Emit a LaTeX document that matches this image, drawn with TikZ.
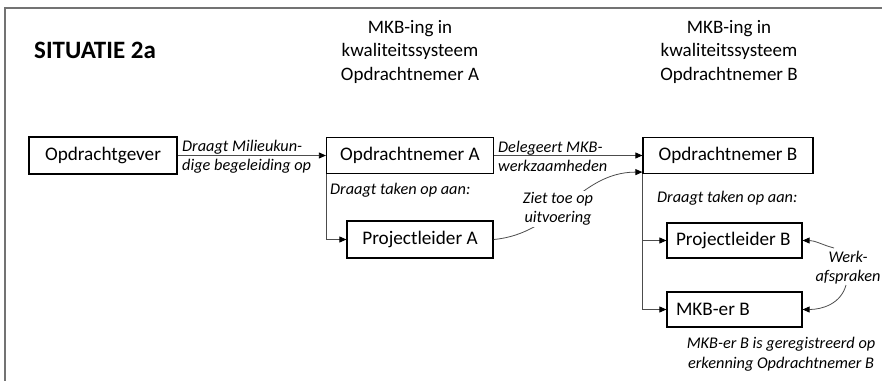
\documentclass[tikz,border=0pt]{standalone}
\usepackage{fontspec}
\setmainfont{Carlito}
\usetikzlibrary{arrows.meta}
\tikzset{
  box/.style={draw=black, line width=1.2pt, inner sep=0pt, font=\fontsize{19.2}{23}\selectfont},
  leftbox/.style={box, inner xsep=9pt, minimum height=35pt},
  head/.style={align=center, inner sep=0pt, font=\fontsize{19}{23.5}\selectfont},
  lbl/.style={inner sep=1pt, font=\fontsize{16.3}{19.5}\selectfont\itshape},
  conn/.style={draw=black!70, line width=0.8pt, -{Triangle[length=7pt,width=6pt,fill=black,color=black]}},
  frame/.style={draw=black!55, line width=2pt}
}
\begin{document}
\begin{tikzpicture}[x=1pt,y=1pt]
\useasboundingbox (0,0) rectangle (882,-380);
% frame
\draw[frame] (5,-381) -- (5,-8) -- (883,-8);
% title and headers
\node[anchor=west, inner sep=0pt, font=\fontsize{25}{29}\selectfont\bfseries] (title) at (34,-50) {SITUATIE 2a};
\node[head] (hA) at (410,-51.5) {MKB-ing in\\kwaliteitssysteem\\Opdrachtnemer A};
\node[head] (hB) at (729,-51.5) {MKB-ing in\\kwaliteitssysteem\\Opdrachtnemer B};
% boxes
\node[box, minimum width=148pt, minimum height=37pt] (og) at (103,-155.5) {Opdrachtgever};
\node[box, minimum width=167pt, minimum height=36pt] (ona) at (410,-155.5) {Opdrachtnemer A};
\node[box, minimum width=170pt, minimum height=36pt] (onb) at (728,-155.5) {Opdrachtnemer B};
\node[box, minimum width=146pt, minimum height=37pt] (pla) at (420,-239.5) {Projectleider A};
\node[leftbox] (plb) at (734.5,-240.5) {\makebox[117pt][l]{Projectleider B}};
\node[leftbox] (mkb) at (734.5,-309.5) {\makebox[117pt][l]{MKB-er B}};
% connectors
\draw[conn] (og.east) -- (ona.west);
\draw[conn] (ona.east) -- (onb.west);
\draw[conn] (ona.south west) |- (pla.west);
\draw[conn] (onb.south west) |- (plb.west);
\draw[conn] (onb.south west) |- (mkb.west);
\draw[conn] (pla.east) to[out=5,in=180] ([yshift=2pt]onb.south west);
\coordinate (w1) at (834,-248);
\coordinate (w2) at (846,-285);
\draw[conn] (w1) to[out=165,in=0] (plb.east);
\draw[conn] (w2) to[out=-105,in=0] (mkb.east);
% labels
\node[lbl, anchor=west, align=left] (l1) at (181,-156.5) {Draagt Milieukun-\\dige begeleiding op};
\node[lbl, anchor=west, align=left] (l2) at (497,-156.5) {Delegeert MKB-\\werkzaamheden};
\node[lbl, anchor=west] (l3) at (329,-190) {Draagt taken op aan:};
\node[lbl, anchor=west] (l5) at (656,-198) {Draagt taken op aan:};
\node[lbl, align=center, fill=white] (l4) at (558,-209) {Ziet toe op\\uitvoering};
\node[lbl, align=center] (l6) at (848,-267.5) {Werk-\\afspraken};
\node[lbl, align=center] (l7) at (781,-354) {MKB-er B is geregistreerd op\\erkenning Opdrachtnemer B};
\end{tikzpicture}
\end{document}
